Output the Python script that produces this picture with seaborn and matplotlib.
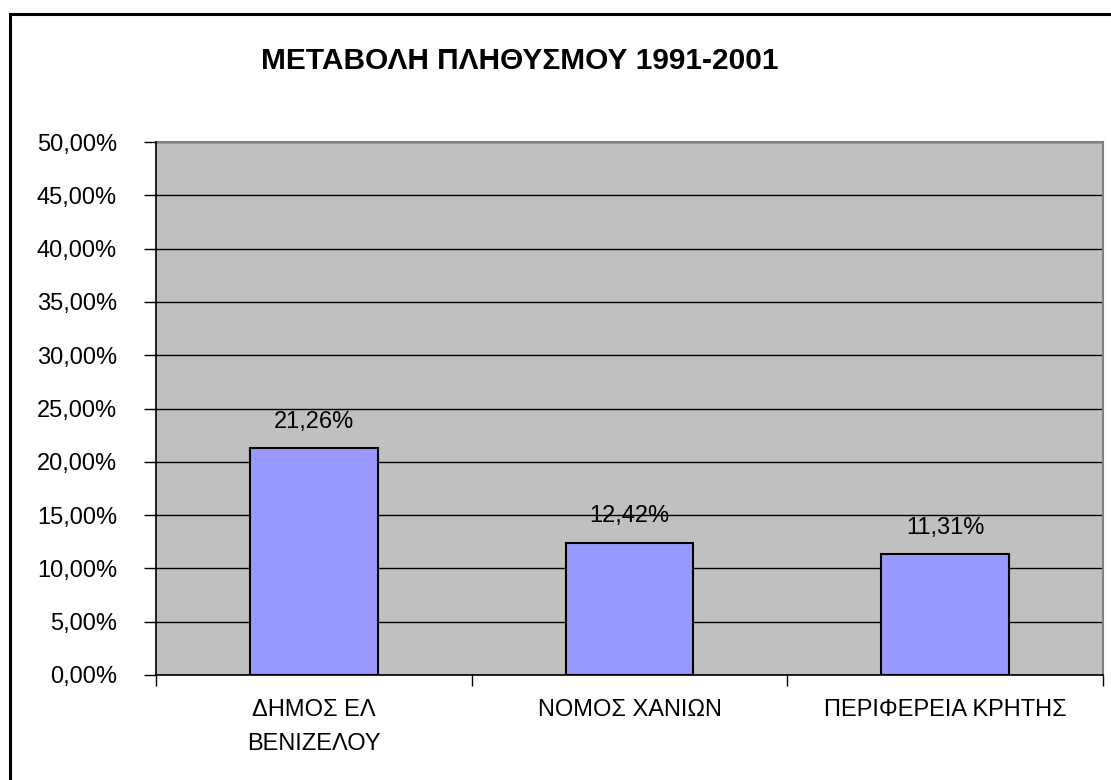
import matplotlib
matplotlib.use("Agg")
import matplotlib.pyplot as plt
from matplotlib.patches import Rectangle
from matplotlib.ticker import FuncFormatter, FixedLocator
import pandas as pd
import seaborn as sns

# data
categories = ["ΔΗΜΟΣ ΕΛ\nΒΕΝΙΖΕΛΟΥ", "ΝΟΜΟΣ ΧΑΝΙΩΝ", "ΠΕΡΙΦΕΡΕΙΑ ΚΡΗΤΗΣ"]
change_pct = [21.26, 12.42, 11.31]
y_ticks = [0, 5, 10, 15, 20, 25, 30, 35, 40, 45, 50]
title = "ΜΕΤΑΒΟΛΗ ΠΛΗΘΥΣΜΟΥ 1991-2001"

df = pd.DataFrame({"area": categories, "pct": change_pct})

sns.set_theme(style="white")
plt.rcParams["font.family"] = ["Liberation Sans", "DejaVu Sans"]
plt.rcParams["text.color"] = "black"
plt.rcParams["xtick.color"] = "black"
plt.rcParams["ytick.color"] = "black"

fig = plt.figure(figsize=(11.11, 7.8), dpi=100)
ax = fig.add_axes([156 / 1111, 105 / 780, 947 / 1111, 533 / 780])
ax.set_facecolor("#C0C0C0")

sns.barplot(data=df, x="area", y="pct", color="#9999FF", edgecolor="black",
            linewidth=1.5, width=0.405, saturation=1, ax=ax, zorder=3)

ax.set_xlim(-0.5, 2.5)
ax.set_ylim(0, 50)
ax.set_yticks(y_ticks)
ax.yaxis.set_major_formatter(FuncFormatter(lambda v, p: f"{v:.2f}%".replace(".", ",")))
ax.grid(axis="y", color="black", linewidth=1.0, zorder=1)
ax.set_axisbelow(True)

ax.tick_params(axis="y", direction="out", length=9, width=1, color="black",
               pad=19, labelsize=17, left=True, labelcolor="black")
ax.tick_params(axis="x", which="major", length=0, pad=17, labelsize=17,
               labelcolor="black")
ax.xaxis.set_minor_locator(FixedLocator([-0.5, 0.5, 1.5, 2.5]))
ax.tick_params(axis="x", which="minor", direction="out", length=8, width=1,
               color="black", bottom=True)
for lbl in ax.get_xticklabels():
    lbl.set_linespacing(1.75)
ax.set_xlabel("")
ax.set_ylabel("")

for side in ["top", "right"]:
    ax.spines[side].set_color("#808080")
    ax.spines[side].set_linewidth(1.5)
for side in ["left", "bottom"]:
    ax.spines[side].set_color("black")
    ax.spines[side].set_linewidth(1.2)
    ax.spines[side].set_zorder(4)

for i, v in enumerate(change_pct):
    ax.annotate(f"{v:.2f}%".replace(".", ","), (i, v), xytext=(0, 19),
                textcoords="offset points", ha="center", va="center",
                fontsize=17, color="black")

fig.text(520 / 1111, 1 - 69 / 780, title, ha="center", va="baseline",
         fontsize=21.5, fontweight="bold", color="black")

fig.patches.append(Rectangle((10 / 1111, -0.1), 1.2, 1 - 14 / 780 + 0.1,
                             transform=fig.transFigure, fill=False,
                             edgecolor="black", linewidth=2.2))

fig.savefig("out.png", dpi=100)
